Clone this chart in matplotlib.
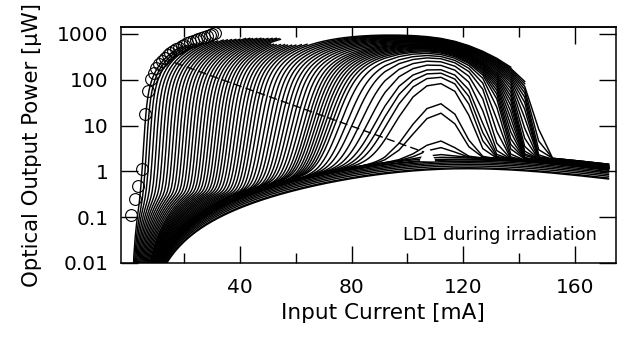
import numpy as np
import matplotlib
matplotlib.use("Agg")
import matplotlib.pyplot as plt
from matplotlib.ticker import FixedLocator, NullFormatter, FixedFormatter

plt.rcParams["font.family"] = ["DejaVu Sans"]

# pre-irradiation reference curve (open circles)
ref_current = [1.1, 2.3, 3.4, 5.1, 5.9, 7.1, 8.3, 9.2, 10.1, 11.1, 12.1, 13.1,
               14.1, 15.1, 16.1, 17.1, 18.1, 19.1, 20.1, 21.1, 22.1, 23.1,
               24.1, 25.1, 26.1, 27.1, 28.1, 29.1, 30.1, 31.1]
ref_power = [0.11, 0.25, 0.48, 1.1, 17.6, 57, 102, 143, 180, 222, 262, 303,
             345, 385, 425, 466, 505, 546, 585, 626, 665, 706, 745, 786,
             826, 866, 905, 946, 985, 1025]

# curves whose sweep was stopped near the power limit: threshold [mA], last power [uW]
ith_short = [6.0, 7.1, 8.2, 9.4, 10.6, 11.8, 13.0, 14.2, 15.4, 16.6, 17.8,
             19.0, 20.2, 21.4, 22.6, 23.8, 25.0, 26.2, 27.4, 28.6, 29.8,
             31.0, 32.2, 33.4, 34.6, 35.8, 37.0, 38.3, 39.6, 40.9, 42.2,
             43.5, 44.8, 46.1]
pend_short = [540, 560, 580, 600, 620, 640, 680, 700, 720, 740, 750, 760,
              770, 780, 790, 790, 790, 790, 790, 790, 790, 790, 780, 760,
              600, 590, 580, 580, 580, 570, 570, 570, 580, 590]

# curves swept over the full current range (thermal roll-over)
ith_long = [47.5, 49.0, 50.5, 52.0, 53.5, 55.0, 56.5, 58.0, 59.5, 61.0,
            62.5, 64.0, 65.5, 66.8, 68.0, 69.2, 70.4, 71.6, 72.8, 74.0,
            75.3, 76.6, 78.0, 80.0, 82.5, 85.0, 88.0, 91.0, 94.0, 96.0,
            98.0, 100.5, 106.0, 108.0, 114.0, 116.0]
iend_long = [138, 143, 145] + [172] * 33
level_long = [2.2, 2.2, 2.2, 2.1, 2.1, 2.1, 2.0, 2.0, 2.0, 2.0, 1.9, 1.9,
              1.9, 1.9, 1.9, 1.9, 1.8, 1.8, 1.8, 1.8, 1.8, 1.8, 1.8, 1.7,
              1.7, 1.7, 1.7, 1.7, 1.7, 1.7, 1.7, 1.7, 1.7, 1.7, 1.7, 1.7]

# curves that never reach lasing
ith_dark = [120.0, 123.0, 126.0, 129.0, 132.0, 135.0, 138.0, 141.0, 145.0, 150.0]
level_dark = [1.75, 1.7, 1.6, 1.55, 1.45, 1.35, 1.25, 1.15, 1.05, 1.0]

# guide line and marker
guide_current = [16.7, 107.0]
guide_power = [235.0, 2.5]
mark_current = [107.0]
mark_power = [2.55]

# sweep grid: fine steps at low current, 5 mA steps above 92 mA
current = np.concatenate([np.arange(0.0, 92.0, 0.5), np.arange(92.0, 173.0, 5.0)])


def heating_shift(i):
    # threshold increase caused by self-heating
    return 15.0 * np.logaddexp(0.0, (i - 115.5) / 5.0)


def slope_eff(i):
    return 40.0 / (1.0 + (i / 95.0) ** 4)


def spont_shape(i, i0):
    x = np.clip(i - i0, 0.0, None) / 95.0
    return x ** 2 * (1.0 + (100.0 / 135.0) ** 6) / (1.0 + (i / 135.0) ** 6)


def li_curve(i, ith, level, i0):
    w = min(3.0, 0.35 + 0.0003 * ith ** 2)
    h = i - ith - heating_shift(i)
    stim = slope_eff(i) * w * np.logaddexp(0.0, h / w)
    return level * spont_shape(i, i0) + stim


fig = plt.figure(figsize=(6.31, 3.47), dpi=100)
ax = fig.add_axes([121 / 631, 84 / 347, 495 / 631, 236 / 347])

line_kw = dict(color="black", lw=1.05, solid_joinstyle="miter")

for ith, pend in zip(ith_short, pend_short):
    i0 = min(5.0, 0.2 * ith)
    level = 0.5 / spont_shape(np.array(ith), i0)
    p = li_curve(current, ith, level, i0)
    stop = int(np.argmax(p >= pend)) + 1
    ax.plot(current[:stop], p[:stop], **line_kw)

for ith, iend, level in zip(ith_long, iend_long, level_long):
    keep = current <= iend + 0.01
    p = li_curve(current, ith, level, 5.0)
    ax.plot(current[keep], p[keep], **line_kw)

for ith, level in zip(ith_dark, level_dark):
    p = li_curve(current, ith, level, 5.0)
    ax.plot(current, p, **line_kw)

ax.plot(guide_current, guide_power, color="black", lw=1.0, dashes=(6, 3))
ax.plot(mark_current, mark_power, marker="^", ms=10, mfc="white", mec="white",
        ls="none", zorder=5)
ax.plot(ref_current, ref_power, marker="o", ms=8.5, mfc="none", mec="black",
        mew=0.8, ls="none", zorder=4)

ax.set_yscale("log")
ax.set_xlim(-2.6, 174.7)
ax.set_ylim(0.01, 1420)

ax.xaxis.set_major_locator(FixedLocator([40, 80, 120, 160]))
ax.xaxis.set_minor_locator(FixedLocator([20, 60, 100, 140]))
ax.xaxis.set_minor_formatter(NullFormatter())
ax.yaxis.set_major_locator(FixedLocator([0.01, 0.1, 1, 10, 100, 1000]))
ax.yaxis.set_major_formatter(FixedFormatter(["0.01", "0.1", "1", "10", "100", "1000"]))
ax.yaxis.set_minor_locator(FixedLocator([]))

ax.tick_params(axis="x", which="major", direction="in", length=12.5, width=1.0,
               labelsize=14.5, pad=11, top=False)
ax.tick_params(axis="x", which="minor", direction="in", length=7.2, width=1.0,
               top=False)
ax.tick_params(axis="y", which="major", direction="in", length=12.5, width=1.0,
               labelsize=14.5, pad=9, right=True)

top = ax.secondary_xaxis("top")
top.xaxis.set_major_locator(FixedLocator([160]))
top.xaxis.set_minor_locator(FixedLocator([20, 40, 60, 80, 100, 120, 140]))
top.xaxis.set_major_formatter(NullFormatter())
top.xaxis.set_minor_formatter(NullFormatter())
top.tick_params(which="major", direction="in", length=12.5, width=1.0)
top.tick_params(which="minor", direction="in", length=7.2, width=1.0)

for spine in ax.spines.values():
    spine.set_linewidth(1.1)
top.spines["top"].set_linewidth(1.1)

ax.set_xlabel("Input Current [mA]", fontsize=15.5)
ax.xaxis.set_label_coords(0.53, -0.17)
ax.set_ylabel("Optical Output Power [\u03bcW]", fontsize=15.3)
ax.yaxis.set_label_coords(-0.16, 0.5)

ax.text(0.962, 0.119, "LD1 during irradiation", transform=ax.transAxes,
        ha="right", va="center", fontsize=12.7)

fig.savefig("out.png", dpi=100)
